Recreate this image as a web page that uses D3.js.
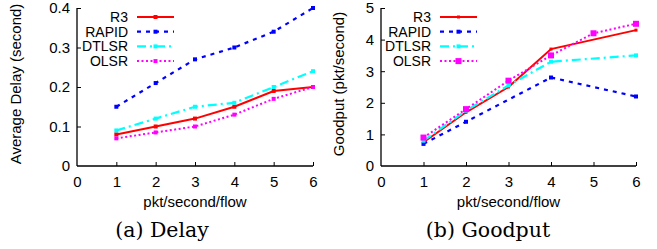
<!DOCTYPE html>
<html><head><meta charset="utf-8">
<script src="https://cdn.jsdelivr.net/npm/d3@7"></script>
<style>body{margin:0;background:#fff}svg{display:block}</style>
</head><body><svg id="c" width="657" height="249"></svg>
<script>
const seriesNames = ["R3", "RAPID", "DTLSR", "OLSR"];
const xTicks = [0, 1, 2, 3, 4, 5, 6];
const delayTicks = [0, 0.1, 0.2, 0.3, 0.4];
const goodputTicks = [0, 1, 2, 3, 4, 5];
// Delay chart
const delayX = [1, 2, 3, 4, 5, 6];
const delayR3 = [0.08, 0.10, 0.12, 0.15, 0.19, 0.20];
const delayRAPID = [0.15, 0.21, 0.27, 0.30, 0.34, 0.40];
const delayDTLSR = [0.09, 0.12, 0.15, 0.16, 0.20, 0.24];
const delayOLSR = [0.07, 0.085, 0.10, 0.13, 0.17, 0.20];
// Goodput chart
const gpR3X = [1, 2, 3, 4, 6];
const gpR3 = [0.75, 1.7, 2.5, 3.7, 4.3];
const gpRAPIDX = [1, 2, 4, 6];
const gpRAPID = [0.7, 1.4, 2.8, 2.2];
const gpDTLSRX = [1, 2, 3, 4, 6];
const gpDTLSR = [0.8, 1.75, 2.55, 3.3, 3.5];
const gpOLSRX = [1, 2, 3, 4, 5, 6];
const gpOLSR = [0.9, 1.8, 2.7, 3.5, 4.2, 4.5];

const styles = {
  R3: {color: "#ff0000", dash: null, w: 2},
  RAPID: {color: "#0000ff", dash: "4,5", w: 2.2},
  DTLSR: {color: "#00ffff", dash: "9,4,2,4", w: 2.2},
  OLSR: {color: "#ff00ff", dash: "2,2.5", w: 2}
};
const SANS = "'Liberation Sans', Arial, Helvetica, sans-serif";
const SERIF = "'DejaVu Serif', 'Liberation Serif', serif";

const svg = d3.select("#c");

function chart(o) {
  const g = svg.append("g").style("font-family", SANS);
  const x = d3.scaleLinear().domain([0, 6]).range([o.x0, o.x1]);
  const y = d3.scaleLinear().domain([0, o.ymax]).range([o.y1, o.y0]);
  // axes (ticks inward)
  const ya = g.append("g").attr("transform", `translate(${o.x0},0)`)
    .call(d3.axisLeft(y).tickValues(o.yticks).tickSize(-4).tickPadding(7).tickFormat(o.yfmt));
  const xa = g.append("g").attr("transform", `translate(0,${o.y1})`)
    .call(d3.axisBottom(x).tickValues(xTicks).tickSize(-4).tickPadding(10).tickFormat(d3.format("d")));
  [ya, xa].forEach(a => {
    a.select(".domain").attr("stroke", "#000").attr("stroke-width", 1.3);
    a.selectAll(".tick line").attr("stroke", "#000").attr("stroke-width", 1);
    a.selectAll("text").style("font-size", "15px").style("font-family", SANS).attr("fill", "#000");
  });
  ya.select(".domain").attr("d", `M0,${o.y0}V${o.y1}`);
  xa.select(".domain").attr("d", `M${o.x0},0H${o.x1}`);
  ya.selectAll(".tick").filter(d => d === 0).select("line").remove();
  xa.selectAll(".tick").filter(d => d === 0).select("line").remove();
  // labels
  g.append("text").attr("x", (o.x0 + o.x1) / 2).attr("y", 207).attr("text-anchor", "middle")
    .style("font-size", "15px").text("pkt/second/flow");
  g.append("text").attr("transform", `translate(${o.ylabX},${(o.y0 + o.y1) / 2 - 3}) rotate(-90)`)
    .attr("text-anchor", "middle").style("font-size", "15px").text(o.ylab);
  g.append("text").attr("x", o.capX).attr("y", 237).attr("text-anchor", "middle")
    .style("font-size", "20.5px").style("font-family", SERIF).text(o.caption);
  // series
  const line = d3.line().x(d => x(d[0])).y(d => y(d[1]));
  o.series.forEach((s, i) => {
    const st = styles[s.name];
    const pts = s.xs.map((v, k) => [v, s.ys[k]]);
    g.append("path").datum(pts).attr("d", line).attr("fill", "none")
      .attr("stroke", st.color).attr("stroke-width", st.w)
      .attr("stroke-dasharray", st.dash);
    g.selectAll(null).data(pts).enter().append("rect")
      .attr("x", d => x(d[0]) - s.ms / 2).attr("y", d => y(d[1]) - s.ms / 2)
      .attr("width", s.ms).attr("height", s.ms).attr("fill", st.color);
    // legend
    const ly = 17 + i * 14.7;
    g.append("text").attr("x", o.legX).attr("y", ly + 5).attr("text-anchor", "end")
      .style("font-size", "14px").text(s.name);
    g.append("line").attr("x1", o.legX + 9).attr("x2", o.legX + 46).attr("y1", ly).attr("y2", ly)
      .attr("stroke", st.color).attr("stroke-width", st.w).attr("stroke-dasharray", st.dash);
    g.append("rect").attr("x", o.legX + 27.5 - s.ms / 2).attr("y", ly - s.ms / 2)
      .attr("width", s.ms).attr("height", s.ms).attr("fill", st.color);
  });
}

chart({
  x0: 77, x1: 313, y0: 8, y1: 166, ymax: 0.4, yticks: delayTicks,
  yfmt: d => d === 0 ? "0" : d3.format(".1f")(d),
  ylab: "Average Delay (second)", ylabX: 21, caption: "(a) Delay", capX: 162, legX: 128,
  series: [
    {name: "R3", xs: delayX, ys: delayR3, ms: 4},
    {name: "RAPID", xs: delayX, ys: delayRAPID, ms: 4},
    {name: "DTLSR", xs: delayX, ys: delayDTLSR, ms: 4},
    {name: "OLSR", xs: delayX, ys: delayOLSR, ms: 4}
  ]
});
chart({
  x0: 381, x1: 636, y0: 8, y1: 166, ymax: 5, yticks: goodputTicks,
  yfmt: d3.format("d"),
  ylab: "Goodput (pkt/second)", ylabX: 344, caption: "(b) Goodput", capX: 488, legX: 431,
  series: [
    {name: "R3", xs: gpR3X, ys: gpR3, ms: 3},
    {name: "RAPID", xs: gpRAPIDX, ys: gpRAPID, ms: 4},
    {name: "DTLSR", xs: gpDTLSRX, ys: gpDTLSR, ms: 4},
    {name: "OLSR", xs: gpOLSRX, ys: gpOLSR, ms: 6}
  ]
});
</script></body></html>
